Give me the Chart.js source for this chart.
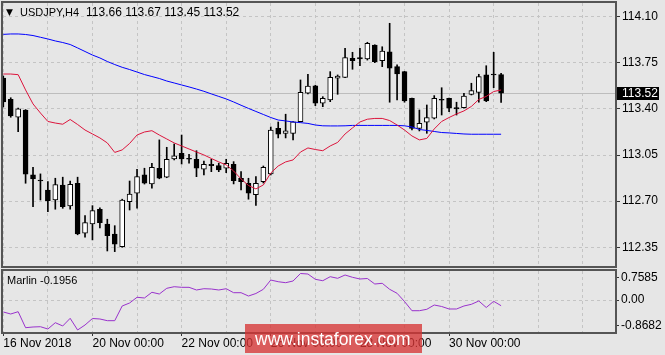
<!DOCTYPE html>
<html>
<head>
<meta charset="utf-8">
<script src="https://cdn.jsdelivr.net/npm/chart.js@4.4.0/dist/chart.umd.min.js"></script>
<style>
  body { margin: 0; background: #e6e6e6; }
  #wrap { position: relative; width: 665px; height: 355px; overflow: hidden; background: #e6e6e6; }
  canvas { position: absolute; left: 0; }
  #price { top: 0; }
  #marlin { top: 268px; }
  #mark {
    position: absolute; left: 245px; top: 324px; width: 177px; height: 29px;
    background: rgba(214, 52, 52, 0.78); color: #fff; box-sizing: border-box;
    font: 17.5px 'Liberation Sans', Arial, sans-serif; line-height: 31px; padding-left: 10px;
  }
</style>
</head>
<body>
<div id="wrap">
  <canvas id="price" width="665" height="268"></canvas>
  <canvas id="marlin" width="665" height="87"></canvas>
  <div id="mark">www.instaforex.com</div>
</div>
<script>
const symbol = 'USDJPY,H4';

// H4 candles, 16 Nov 2018 00:00 onwards
const opens = [113.635, 113.473, 113.337, 113.392, 112.899, 112.861, 112.785, 112.709, 112.823, 112.664,
  112.836, 112.457, 112.527, 112.639, 112.527, 112.451, 112.355, 112.696, 112.760, 112.899,
  112.831, 112.950, 112.882, 113.020, 113.064, 113.026, 113.018, 112.942, 112.980, 112.970,
  112.950, 112.980, 112.874, 112.836, 112.750, 112.848, 112.907, 113.253, 113.215, 113.215,
  113.303, 113.519, 113.576, 113.443, 113.468, 113.633, 113.640, 113.784, 113.789, 113.779,
  113.885, 113.766, 113.834, 113.721, 113.683, 113.481, 113.253, 113.299, 113.329, 113.473,
  113.481, 113.410, 113.410, 113.511, 113.526, 113.658, 113.665, 113.66];
const highs = [113.650, 113.485, 113.407, 113.395, 112.957, 112.907, 112.848, 112.874, 112.882, 112.853,
  112.882, 112.590, 112.666, 112.649, 112.563, 112.514, 112.715, 112.853, 112.942, 112.950,
  112.988, 113.165, 113.109, 113.134, 113.202, 113.056, 113.083, 113.005, 113.018, 112.988,
  113.018, 113.000, 112.924, 112.874, 112.886, 112.967, 113.263, 113.301, 113.360, 113.305,
  113.620, 113.663, 113.580, 113.493, 113.683, 113.658, 113.860, 113.830, 113.860, 113.906,
  113.887, 113.872, 114.050, 113.734, 113.685, 113.483, 113.392, 113.430, 113.501, 113.561,
  113.483, 113.451, 113.519, 113.595, 113.663, 113.728, 113.830, 113.67];
const lows = [113.415, 113.337, 113.227, 112.836, 112.658, 112.709, 112.621, 112.639, 112.646, 112.639,
  112.445, 112.426, 112.406, 112.497, 112.322, 112.317, 112.350, 112.633, 112.646, 112.830,
  112.798, 112.870, 112.878, 113.013, 112.982, 112.988, 112.886, 112.899, 112.924, 112.924,
  112.916, 112.831, 112.785, 112.715, 112.668, 112.838, 112.899, 113.180, 113.180, 113.165,
  113.300, 113.514, 113.425, 113.417, 113.455, 113.511, 113.638, 113.701, 113.728, 113.771,
  113.751, 113.721, 113.451, 113.468, 113.451, 113.240, 113.233, 113.215, 113.324, 113.354,
  113.379, 113.354, 113.405, 113.506, 113.451, 113.455, 113.561, 113.45];
const closes = [113.453, 113.347, 113.400, 112.904, 112.869, 112.853, 112.704, 112.825, 112.658, 112.828,
  112.451, 112.537, 112.628, 112.537, 112.438, 112.373, 112.709, 112.753, 112.886, 112.836,
  112.957, 112.874, 113.018, 113.045, 113.020, 113.018, 112.950, 112.980, 112.970, 112.937,
  112.988, 112.856, 112.848, 112.760, 112.836, 112.957, 113.240, 113.208, 113.233, 113.303,
  113.526, 113.574, 113.443, 113.481, 113.640, 113.650, 113.789, 113.766, 113.779, 113.898,
  113.759, 113.840, 113.709, 113.665, 113.460, 113.253, 113.291, 113.334, 113.481, 113.466,
  113.405, 113.400, 113.498, 113.539, 113.645, 113.460, 113.658, 113.52];

// moving averages (red = fast, blue = slow)
const fastMA = [113.665, 113.665, 113.660, 113.544, 113.438, 113.369, 113.305, 113.293, 113.284, 113.320,
  113.282, 113.240, 113.210, 113.180, 113.142, 113.070, 113.089, 113.138, 113.202, 113.225,
  113.235, 113.202, 113.172, 113.142, 113.119, 113.096, 113.073, 113.051, 113.024, 112.998,
  112.975, 112.929, 112.869, 112.819, 112.793, 112.823, 112.914, 112.967, 112.998, 113.013,
  113.073, 113.104, 113.092, 113.083, 113.119, 113.146, 113.210, 113.256, 113.301, 113.322,
  113.328, 113.328, 113.312, 113.278, 113.240, 113.195, 113.165, 113.176, 113.248, 113.305,
  113.335, 113.362, 113.385, 113.419, 113.472, 113.495, 113.532, 113.544];
const slowMA = [113.966, 113.969, 113.969, 113.965, 113.957, 113.944, 113.931, 113.916, 113.904, 113.889,
  113.863, 113.836, 113.809, 113.787, 113.760, 113.737, 113.716, 113.699, 113.680, 113.661,
  113.646, 113.631, 113.612, 113.597, 113.582, 113.567, 113.551, 113.534, 113.514, 113.495,
  113.476, 113.453, 113.428, 113.404, 113.381, 113.358, 113.335, 113.316, 113.309, 113.301,
  113.296, 113.290, 113.278, 113.272, 113.271, 113.271, 113.272, 113.275, 113.275, 113.275,
  113.275, 113.275, 113.275, 113.275, 113.272, 113.263, 113.244, 113.237, 113.229, 113.221,
  113.218, 113.214, 113.210, 113.208, 113.208, 113.208, 113.208, 113.208];

const marlin = [-0.412, -0.481, -0.402, -0.952, -0.928, -0.918, -0.997, -0.780, -0.893, -0.629,
  -1.031, -0.859, -0.636, -0.653, -0.711, -0.711, -0.206, -0.103, 0.093, 0.069,
  0.265, 0.206, 0.402, 0.457, 0.436, 0.436, 0.344, 0.388, 0.378, 0.344,
  0.388, 0.251, 0.251, 0.137, 0.223, 0.368, 0.687, 0.629, 0.595, 0.653,
  0.911, 0.893, 0.711, 0.663, 0.801, 0.746, 0.859, 0.780, 0.722, 0.739,
  0.550, 0.574, 0.368, 0.230, -0.052, -0.368, -0.368, -0.320, -0.172, -0.223,
  -0.309, -0.309, -0.206, -0.148, -0.034, -0.258, -0.045, -0.1956];

const priceTicks = [114.10, 113.75, 113.40, 113.05, 112.70, 112.35];
const marlinTicks = [0.7585, 0, -0.8682];
const marlinTickLabels = ['0.7585', '0.00', '-0.8682'];
const dateTicks = ['16 Nov 2018', '20 Nov 00:00', '22 Nov 00:00', '26 Nov 00:00', '28 Nov 00:00', '30 Nov 00:00'];

const barsPerDay = 6;
const xMin = -0.04, xMax = 82.33;
const gridColor = '#c4c4c4';
const frameColor = '#555';
const last = closes.length - 1;

Chart.defaults.font.family = "'Liberation Sans', Arial, sans-serif";
Chart.defaults.font.size = 12;
Chart.defaults.color = '#000';

function xAxis(showLabels) {
  return {
    type: 'linear', min: xMin, max: xMax, offset: false,
    afterBuildTicks: s => {
      const t = [];
      for (let v = 0; v <= xMax; v += barsPerDay) t.push({ value: v });
      s.ticks = t;
    },
    afterFit: s => { s.height = showLabels ? 23 : 0; s.paddingLeft = 0; s.paddingRight = 0; },
    grid: {
      offset: false, color: gridColor, drawTicks: showLabels, tickLength: 4,
      tickColor: c => (c.index % 2 === 0 && c.index / 2 < dateTicks.length) ? '#333' : 'rgba(0,0,0,0)'
    },
    border: { display: false, dash: [3, 3] },
    ticks: {
      display: showLabels, autoSkip: false, maxRotation: 0, align: 'start', padding: 0,
      callback: v => v % (barsPerDay * 2) === 0 ? (dateTicks[v / (barsPerDay * 2)] || '') : ''
    }
  };
}

function toPoints(arr) {
  return arr.map((v, i) => ({ x: i, y: v }));
}

const pricePanel = {
  id: 'pricePanel',
  beforeDatasetsDraw(chart) {
    const { ctx, chartArea: a, scales: { y } } = chart;
    const py = Math.round(y.getPixelForValue(closes[last])) + 0.5;
    ctx.save();
    ctx.strokeStyle = '#bdbdbd';
    ctx.lineWidth = 1;
    ctx.beginPath();
    ctx.moveTo(a.left, py);
    ctx.lineTo(a.right, py);
    ctx.stroke();
    ctx.restore();
  },
  afterDraw(chart) {
    const { ctx, chartArea: a, scales: { y } } = chart;
    ctx.save();
    ctx.strokeStyle = frameColor;
    ctx.lineWidth = 2;
    ctx.strokeRect(a.left - 1, a.top - 1, a.right - a.left + 2, a.bottom - a.top + 2);

    // current price box
    const py = y.getPixelForValue(closes[last]);
    ctx.fillStyle = '#000';
    ctx.fillRect(a.right + 2, Math.round(py) - 6, 42, 13);
    ctx.fillStyle = '#fff';
    ctx.font = "12px 'Liberation Sans', Arial, sans-serif";
    ctx.textBaseline = 'middle';
    ctx.fillText(closes[last].toFixed(2), a.right + 7, py + 0.5);

    // header
    ctx.fillStyle = '#000';
    ctx.font = "9px 'DejaVu Sans', sans-serif";
    ctx.fillText('\u25BC', 6, 12.5);
    ctx.font = "11px 'Liberation Sans', Arial, sans-serif";
    ctx.fillText(symbol, 20, 12.5);
    ctx.font = "12px 'Liberation Sans', Arial, sans-serif";
    const ohlc = [opens[last], highs[last], lows[last], closes[last]].map(v => v.toFixed(2)).join(' ');
    ctx.fillText(ohlc, 86, 12.5);
    ctx.restore();
  }
};

const marlinPanel = {
  id: 'marlinPanel',
  afterDraw(chart) {
    const { ctx, chartArea: a } = chart;
    ctx.save();
    ctx.strokeStyle = frameColor;
    ctx.lineWidth = 2;
    ctx.strokeRect(a.left - 1, a.top - 1, a.right - a.left + 2, a.bottom - a.top + 2);
    ctx.fillStyle = '#000';
    ctx.font = "11px 'Liberation Sans', Arial, sans-serif";
    ctx.textBaseline = 'middle';
    ctx.fillText('Marlin ' + marlin[marlin.length - 1].toFixed(4), 7, 12.7);
    ctx.restore();
  }
};

new Chart(document.getElementById('price').getContext('2d'), {
  type: 'line',
  data: {
    datasets: [
      { type: 'line', data: toPoints(fastMA), borderColor: '#dc143c', borderWidth: 1, pointRadius: 0, tension: 0, order: 0 },
      { type: 'line', data: toPoints(slowMA), borderColor: '#0000ff', borderWidth: 1, pointRadius: 0, tension: 0, order: 0 },
      {
        type: 'bar', order: 1, grouped: false, barThickness: 5,
        data: opens.map((o, i) => ({ x: i, y: [o, closes[i]] })),
        backgroundColor: opens.map((o, i) => closes[i] >= o ? '#ffffff' : '#000000'),
        borderColor: '#000', borderWidth: 1, borderSkipped: false
      },
      {
        type: 'bar', order: 2, grouped: false, barThickness: 1,
        data: lows.map((l, i) => ({ x: i, y: [l, highs[i]] })),
        backgroundColor: '#000'
      }
    ]
  },
  options: {
    responsive: false, animation: false, devicePixelRatio: 1, events: [],
    layout: { padding: { left: 3, top: 3, right: 0, bottom: 2 } },
    plugins: { legend: { display: false }, tooltip: { enabled: false } },
    scales: {
      x: xAxis(false),
      y: {
        position: 'right', min: 112.208, max: 114.204, beginAtZero: false,
        afterBuildTicks: s => { s.ticks = priceTicks.map(v => ({ value: v })); },
        afterFit: s => { s.width = 50; s.paddingTop = 0; s.paddingBottom = 0; },
        grid: { color: gridColor, tickLength: 5, tickColor: '#333' },
        border: { display: false, dash: [3, 3] },
        ticks: { padding: 2, callback: v => v.toFixed(2) }
      }
    }
  },
  plugins: [pricePanel]
});

new Chart(document.getElementById('marlin').getContext('2d'), {
  type: 'line',
  data: {
    datasets: [
      { data: toPoints(marlin), borderColor: '#9932cc', borderWidth: 1, pointRadius: 0, tension: 0 }
    ]
  },
  options: {
    responsive: false, animation: false, devicePixelRatio: 1, events: [],
    layout: { padding: { left: 3, top: 3, right: 0, bottom: 0 } },
    plugins: { legend: { display: false }, tooltip: { enabled: false } },
    scales: {
      x: xAxis(true),
      y: {
        position: 'right', min: -1.10, max: 0.997,
        afterBuildTicks: s => { s.ticks = marlinTicks.map(v => ({ value: v })); },
        afterFit: s => { s.width = 50; s.paddingTop = 0; s.paddingBottom = 0; },
        grid: { color: c => (c.tick && c.tick.value === 0) ? gridColor : 'rgba(0,0,0,0)', tickLength: 4, tickColor: '#333' },
        border: { display: false, dash: [3, 3] },
        ticks: { padding: 2, callback: (v, i) => marlinTickLabels[i] }
      }
    }
  },
  plugins: [marlinPanel]
});
</script>
</body>
</html>
